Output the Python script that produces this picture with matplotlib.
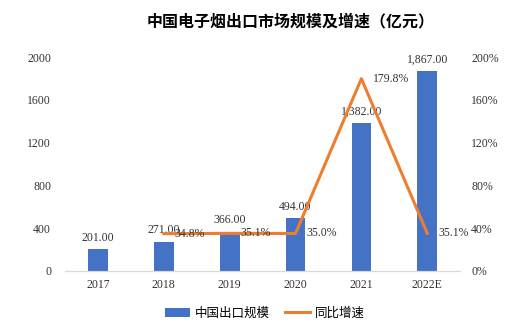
import matplotlib.pyplot as plt

plt.rcParams['font.family'] = ['Liberation Serif', 'Noto Sans CJK SC']

years = ["2017", "2018", "2019", "2020", "2021", "2022E"]
exportScale = [201, 271, 366, 494, 1382, 1867]
growthYears = ["2018", "2019", "2020", "2021", "2022E"]
growthRate = [34.8, 35.1, 35.0, 179.8, 35.1]

barColor = "#4472C4"
lineColor = "#ED7D31"

fig = plt.figure(figsize=(5.2, 3.26), dpi=100)
ax = fig.add_axes([0.125, 0.169, 0.76, 0.656])
ax2 = ax.twinx()

x = list(range(len(years)))
bars = ax.bar(x, exportScale, width=0.3, color=barColor, label="中国出口规模", zorder=2)
for xi, v in zip(x, exportScale):
    ax.annotate(f"{v:,.2f}", (xi, v), xytext=(0, 4), textcoords="offset points",
                ha="center", va="bottom", fontsize=8.5, color="#333333")

gx = [years.index(y) for y in growthYears]
line, = ax2.plot(gx, growthRate, color=lineColor, linewidth=2.2, label="同比增速", zorder=3)
for xi, v in zip(gx, growthRate):
    ax2.annotate(f"{v:.1f}%", (xi, v), xytext=(8, 0), textcoords="offset points",
                 ha="left", va="center", fontsize=8.5, color="#333333")

ax.set_ylim(0, 2000)
ax.set_yticks(range(0, 2001, 400))
ax2.set_ylim(0, 200)
ax2.set_yticks(range(0, 201, 40))
ax2.set_yticklabels([f"{t}%" for t in range(0, 201, 40)])
ax.set_xlim(-0.5, len(years) - 0.5)
ax.set_xticks(x)
ax.set_xticklabels(years)

for a in (ax, ax2):
    for s in ["top", "left", "right"]:
        a.spines[s].set_visible(False)
    a.spines["bottom"].set_color("#d9d9d9")
    a.tick_params(length=0, labelsize=8.5, colors="#333333")
ax.tick_params(axis="y", pad=10)
ax2.tick_params(axis="y", pad=8)
ax.tick_params(axis="x", pad=6)

fig.suptitle("中国电子烟出口市场规模及增速（亿元）", x=0.558, y=0.96,
             fontsize=11.5, fontweight="bold", family=["Noto Sans CJK SC"])

fig.legend([bars, line], ["中国出口规模", "同比增速"], loc="lower center",
           bbox_to_anchor=(0.51, -0.015), ncol=2, frameon=False,
           handlelength=2.0, handletextpad=0.4, columnspacing=1.2,
           prop={"family": ["Noto Sans CJK SC"], "size": 9})

fig.savefig("out.png", dpi=100)
